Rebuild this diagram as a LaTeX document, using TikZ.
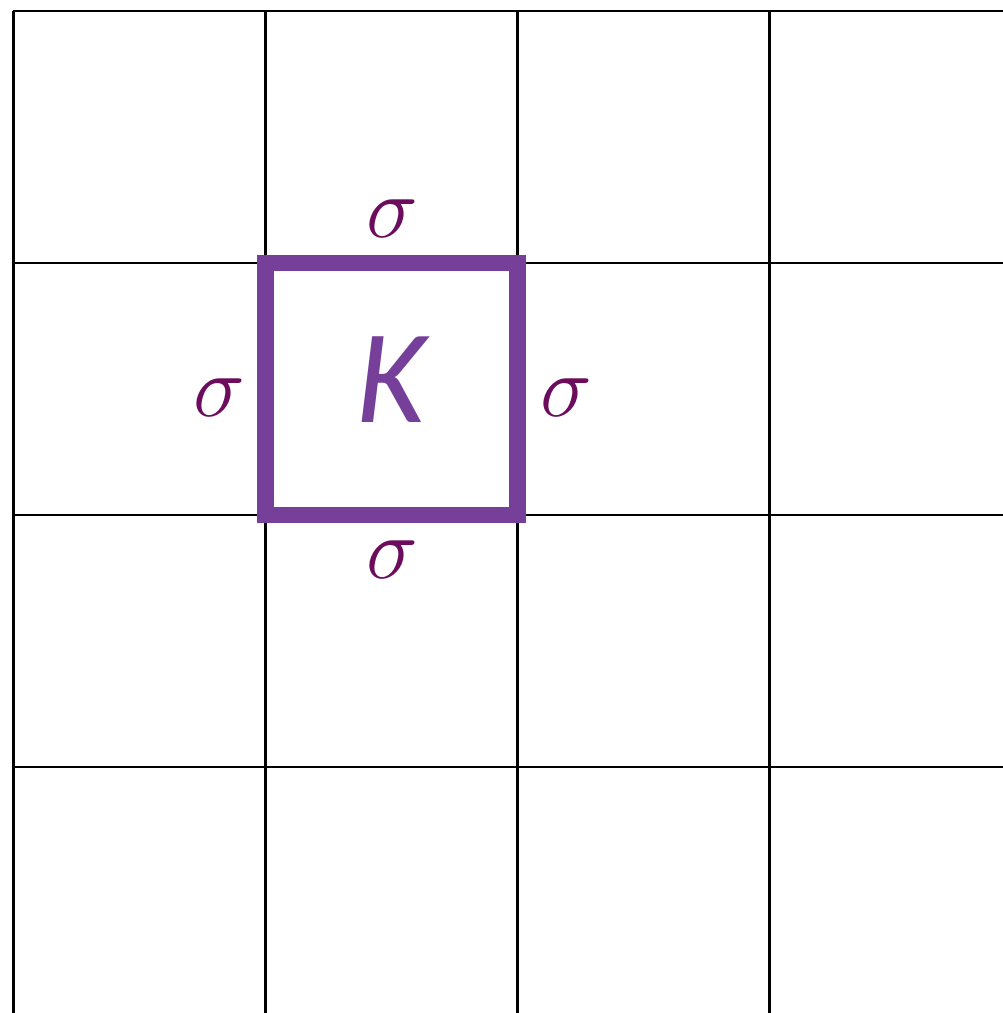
\documentclass[tikz,border=0pt]{standalone}
\usepackage{fontspec}
\newfontfamily\calfont{Carlito}
\usetikzlibrary{positioning}
\definecolor{cellpurple}{RGB}{118,63,154}
\definecolor{sigmapurple}{RGB}{108,12,92}

\begin{document}
\begin{tikzpicture}[
    gridline/.style={line width=0.6pt, black},
    cell/.style={rectangle, draw=cellpurple, line width=4.6pt, minimum size=2.52cm, inner sep=0pt, outer sep=0pt,
      text=cellpurple, text depth=0.18cm, font=\calfont\itshape\fontsize{38}{38}\selectfont},
    flux/.style={text=sigmapurple, font=\fontsize{24}{24}\selectfont, inner sep=0pt},
  ]
  \useasboundingbox (0,0) rectangle (10.03,-10.13);
  \foreach \x in {0.135,2.655,5.175,7.695}
  \draw[gridline] (\x,-0.11) -- (\x,-10.13);
  \foreach \y in {-0.11,-2.63,-5.15,-7.67}
  \draw[gridline] (0.135,\y) -- (10.03,\y);

  \node[cell] (K) at (3.915,-3.89) {K};
  \node[flux] (sT) at (3.925,-2.19) {$\sigma$};
  \node[flux] (sB) at (3.925,-5.60) {$\sigma$};
  \node[flux] (sL) at (2.19,-3.98) {$\sigma$};
  \node[flux] (sR) at (5.66,-3.98) {$\sigma$};
\end{tikzpicture}
\end{document}
